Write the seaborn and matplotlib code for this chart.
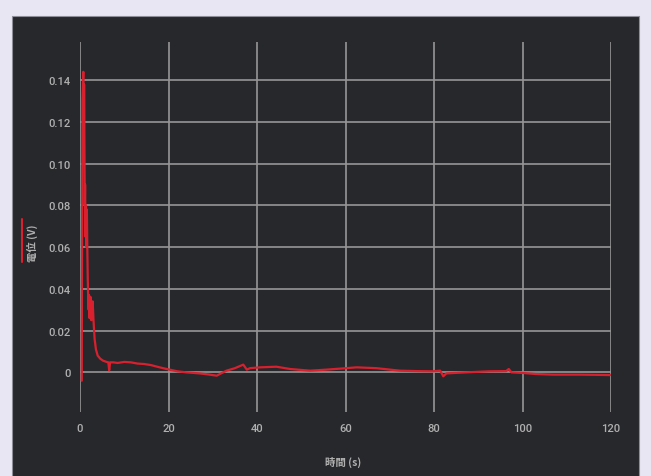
import numpy as np
import pandas as pd
import matplotlib
matplotlib.use("Agg")
import matplotlib.pyplot as plt
from matplotlib.patches import Rectangle
from matplotlib.lines import Line2D
import seaborn as sns

# Recorded potential over time
time_s = [0.40, 0.45, 0.55, 0.75, 0.85, 0.92, 1.00, 1.08, 1.15, 1.25, 1.35, 1.45,
          1.55, 1.65, 1.75, 1.85, 1.95, 2.05, 2.15, 2.25, 2.35, 2.45, 2.55, 2.65,
          2.75, 2.85, 2.95, 3.05, 3.30, 3.60, 4.00, 4.60, 5.20, 6.00, 6.40, 6.60,
          6.80, 7.50, 8.50, 10.0, 11.5, 13.0, 14.5, 16.0, 17.8, 19.6,
          22.0, 24.0, 27.0, 29.0, 30.9, 31.6, 33.1, 35.0, 36.9, 37.7, 38.4, 40.7,
          44.4, 47.5, 52.0, 55.7, 59.5, 62.5, 67.0, 72.3, 76.0, 79.7, 81.4, 82.1,
          82.8, 87.3, 92.5, 96.3, 96.9, 97.5, 100.2, 103.0, 107.0, 113.0, 119.8]
potential_v = [-0.004, 0.050, 0.130, 0.144, 0.100, 0.138, 0.110, 0.080, 0.090, 0.065,
               0.080, 0.060, 0.078, 0.060, 0.045, 0.036, 0.030, 0.037, 0.026, 0.035,
               0.028, 0.036, 0.025, 0.033, 0.027, 0.034, 0.030, 0.025, 0.016, 0.011,
               0.008, 0.0065, 0.0056, 0.005, 0.0048, 0.001, 0.0048,
               0.0048, 0.0045, 0.005, 0.0048, 0.0042, 0.004, 0.0035, 0.0025, 0.0016,
               0.0005, 0.0, -0.0005, -0.001, -0.0016, -0.0008, 0.0008, 0.002, 0.0037,
               0.0013, 0.002, 0.0024, 0.0027, 0.0016, 0.0008, 0.0013, 0.0019, 0.0024,
               0.002, 0.0008, 0.0006, 0.0005, 0.0008, -0.0019, -0.0005, 0.0, 0.0005,
               0.0006, 0.0016, 0.0, -0.0003, -0.0008, -0.0011, -0.0011, -0.0013]

x_ticks = [0, 20, 40, 60, 80, 100, 120]
y_ticks = [0, 0.02, 0.04, 0.06, 0.08, 0.10, 0.12, 0.14]
y_tick_labels = ["0", "0.02", "0.04", "0.06", "0.08", "0.10", "0.12", "0.14"]

sns.set_theme(style="dark")
plt.rcParams["font.family"] = ["Roboto", "Noto Sans CJK JP", "DejaVu Sans"]

bg = "#E9E6F3"
panel = "#27282B"
grid_c = "#969696"
text_c = "#b0b0b0"
red = "#D8202E"

fig = plt.figure(figsize=(6.51, 4.77), dpi=100, facecolor=bg)
panel_rect = Rectangle((12 / 651, -0.01), (639 - 12) / 651, 1 - 17 / 477 + 0.01,
                       transform=fig.transFigure, facecolor=panel,
                       edgecolor="#8e8e98", linewidth=0.8)
panel_rect.set_zorder(-5)
fig.add_artist(panel_rect)

ax = fig.add_axes([80 / 651, 1 - 413 / 477, (611 - 80) / 651, (413 - 43) / 477])
ax.set_zorder(2)
ax.set_facecolor("none")

df = pd.DataFrame({"t": time_s, "v": potential_v})
sns.lineplot(data=df, x="t", y="v", ax=ax, color=red, linewidth=1.6,
             estimator=None, sort=False, zorder=3)

ax.set_xlim(0, 120)
ax.set_ylim(-0.019, 0.1583)
ax.set_xticks(x_ticks)
ax.set_yticks(y_ticks)
ax.set_yticklabels(y_tick_labels)
ax.set_xlabel("")
ax.set_ylabel("")

for s in ax.spines.values():
    s.set_visible(False)
ax.grid(False)
for xv in x_ticks:
    ax.axvline(xv, color=grid_c, linewidth=1.2, zorder=1)
for yv in y_ticks:
    ax.plot([0, 120], [yv, yv], color=grid_c, linewidth=1.2, zorder=1)

ax.tick_params(axis="both", length=0, colors=text_c, labelsize=8)
for lbl in ax.get_xticklabels() + ax.get_yticklabels():
    lbl.set_fontweight("medium")
ax.tick_params(axis="y", pad=7)
ax.tick_params(axis="x", pad=8)

fig.text(343 / 651, 1 - 462 / 477, "時間 (s)", color=text_c, fontsize=7.5,
         fontweight="bold", ha="center", va="center",
         family=["Noto Sans CJK JP", "DejaVu Sans"], zorder=3)
fig.text(32 / 651, 1 - 243 / 477, "電位 (V)", color=text_c, fontsize=7.5,
         fontweight="bold", rotation=90, ha="center", va="center",
         family=["Noto Sans CJK JP", "DejaVu Sans"], zorder=3)
fig.add_artist(Line2D([22 / 651, 22 / 651], [1 - 263 / 477, 1 - 220 / 477],
                      transform=fig.transFigure, color=red, linewidth=1.5, zorder=3))

fig.savefig("out.png", dpi=100, facecolor=bg)
